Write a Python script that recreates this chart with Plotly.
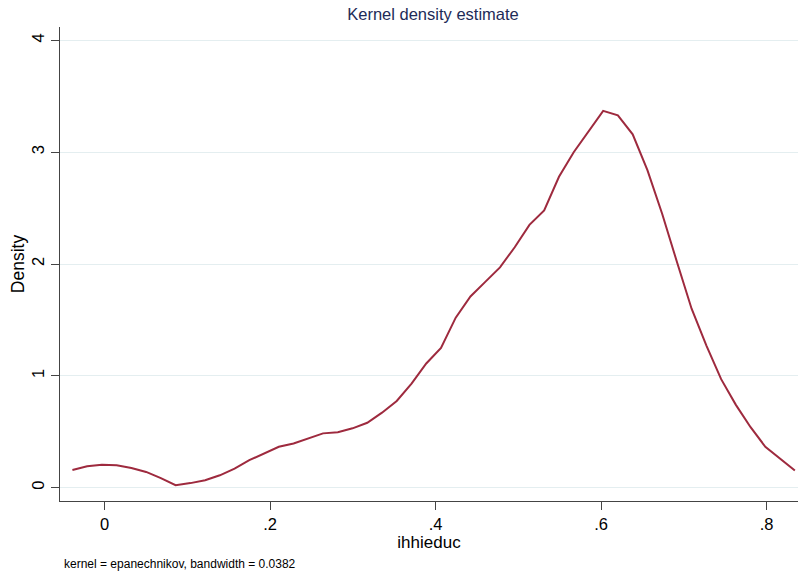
import plotly.graph_objects as go

x_vals = [-0.0390, -0.0212, -0.0034, 0.0145, 0.0323, 0.0501, 0.0679, 0.0857, 0.1036, 0.1214,
          0.1392, 0.1570, 0.1748, 0.1927, 0.2105, 0.2283, 0.2461, 0.2639, 0.2818, 0.2996,
          0.3174, 0.3352, 0.3530, 0.3709, 0.3887, 0.4065, 0.4243, 0.4421, 0.4600, 0.4778,
          0.4956, 0.5134, 0.5312, 0.5491, 0.5669, 0.5847, 0.6025, 0.6203, 0.6382, 0.6560,
          0.6738, 0.6916, 0.7094, 0.7273, 0.7451, 0.7629, 0.7807, 0.7985, 0.8164, 0.8342]
density = [0.157, 0.190, 0.205, 0.200, 0.175, 0.140, 0.085, 0.022, 0.040, 0.065,
           0.110, 0.170, 0.245, 0.305, 0.365, 0.395, 0.440, 0.485, 0.495, 0.530,
           0.580, 0.670, 0.775, 0.930, 1.110, 1.250, 1.520, 1.710, 1.840, 1.970,
           2.150, 2.350, 2.480, 2.780, 3.000, 3.190, 3.370, 3.330, 3.160, 2.840,
           2.450, 2.020, 1.600, 1.270, 0.970, 0.740, 0.540, 0.365, 0.255, 0.152]

x_tickvals = [0, 0.2, 0.4, 0.6, 0.8]
x_ticktext = ["0", ".2", ".4", ".6", ".8"]
y_tickvals = [0, 1, 2, 3, 4]
y_ticktext = ["0", "1", "2", "3", "4"]

font_family = "Liberation Sans, Arial, sans-serif"

fig = go.Figure()
fig.add_trace(go.Scatter(x=x_vals, y=density, mode="lines",
                         line=dict(color="#9e2a3e", width=2), showlegend=False))

fig.update_layout(
    width=798, height=574,
    margin=dict(l=60, r=0, t=27, b=73, autoexpand=False),
    paper_bgcolor="white", plot_bgcolor="white",
    font=dict(family=font_family, color="black", size=16),
    title=dict(text="Kernel density estimate", x=0.5426, xanchor="center",
               y=0.9756, yanchor="middle", yref="container",
               font=dict(size=16.5, color="#1e2b58", family=font_family)),
    xaxis=dict(range=[-0.054, 0.838], tickvals=x_tickvals, ticktext=x_ticktext,
               showgrid=False, zeroline=False, showline=True, linecolor="#444444",
               linewidth=1.2, ticks="outside", ticklen=8, tickcolor="#444444",
               tickfont=dict(size=16.5), automargin=False,
               title=dict(text="ihhieduc", font=dict(size=17), standoff=0)),
    yaxis=dict(range=[-0.12, 4.12], tickvals=y_tickvals, ticktext=y_ticktext,
               showgrid=True, gridcolor="#e4eef0", gridwidth=1.2, zeroline=False,
               showline=True, linecolor="#444444", linewidth=1.2,
               ticks="outside", ticklen=8, tickcolor="#444444",
               tickangle=-90, tickfont=dict(size=16.5), automargin=False,
               title=dict(text="Density", font=dict(size=17.5), standoff=0)),
    annotations=[dict(text="kernel = epanechnikov, bandwidth = 0.0382",
                      xref="paper", yref="paper", x=0.0027, y=-0.133,
                      xanchor="left", yanchor="middle", showarrow=False,
                      font=dict(size=12, color="black", family=font_family))],
)

# remove the default page margin so the 798x574 figure fills the window exactly
fig.write_html("out.html",
               config={"displayModeBar": False},
               post_script="document.body.style.margin='0';"
                           "document.body.style.overflow='hidden';")
